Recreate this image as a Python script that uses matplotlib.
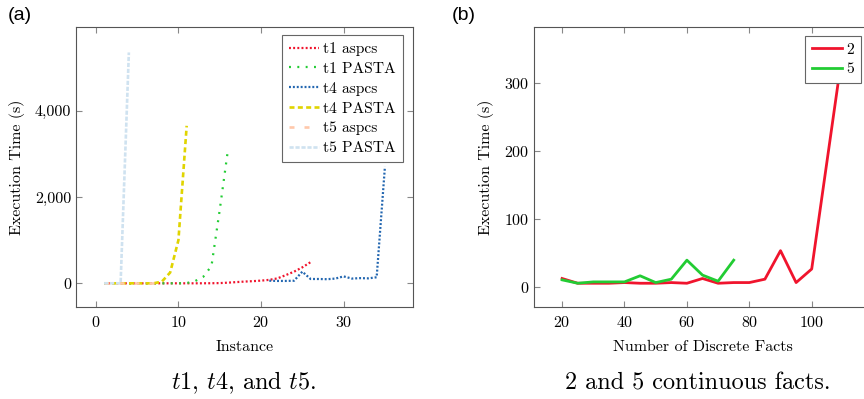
import matplotlib
matplotlib.use('Agg')
import matplotlib.pyplot as plt
from matplotlib.ticker import FuncFormatter

# (a) execution time per instance
t1_aspcs_x = list(range(1, 27))
t1_aspcs_y = [0, 0, 0, 0, 0, 0, 0, 0, 0, 0, 0, 0, 1, 2, 5, 15, 28, 40, 50, 62,
              80, 115, 190, 270, 370, 490]
t1_pasta_x = list(range(1, 17))
t1_pasta_y = [0, 0, 0, 0, 0, 0, 0, 0, 0, 0, 5, 50, 150, 400, 1700, 3100]
t4_aspcs_x = list(range(21, 36))
t4_aspcs_y = [60, 55, 55, 60, 270, 100, 100, 95, 110, 160, 110, 120, 115, 140, 2700]
t4_pasta_x = list(range(1, 12))
t4_pasta_y = [0, 0, 0, 0, 0, 0, 0, 40, 250, 1000, 3650]
t5_aspcs_x = list(range(1, 9))
t5_aspcs_y = [0, 0, 0, 0, 0, 0, 0, 0]
t5_pasta_x = [1, 2, 3, 4]
t5_pasta_y = [0, 0, 0, 5350]

# (b) execution time vs number of discrete facts
facts_2_x = [20, 25, 30, 35, 40, 45, 50, 55, 60, 65, 70, 75, 80, 85, 90, 95, 100, 110]
facts_2_y = [12, 5, 5, 5, 6, 5, 5, 6, 5, 12, 5, 6, 6, 11, 53, 6, 26, 350]
facts_5_x = [20, 25, 30, 35, 40, 45, 50, 55, 60, 65, 70, 75]
facts_5_y = [10, 5, 7, 7, 7, 16, 6, 11, 39, 17, 8, 39]

plt.rcParams['font.family'] = 'serif'
plt.rcParams['font.serif'] = ['cmr10']
plt.rcParams['mathtext.fontset'] = 'cm'
plt.rcParams['axes.unicode_minus'] = False
plt.rcParams['axes.formatter.use_mathtext'] = True
plt.rcParams['lines.scale_dashes'] = False

W, H = 864, 399
fig = plt.figure(figsize=(8.64, 3.99), dpi=100)

def px_axes(x0, y0, x1, y1):
    return fig.add_axes([x0 / W, 1 - y1 / H, (x1 - x0) / W, (y1 - y0) / H])

def style(ax):
    for s in ax.spines.values():
        s.set_color('#555555')
        s.set_linewidth(0.8)
    ax.tick_params(direction='in', top=True, right=True, length=4.5,
                   width=0.8, color='#888888', labelsize=11.5)
    ax.tick_params(axis='y', pad=3.5)
    ax.tick_params(axis='x', pad=6)

def legend(ax, x, y):
    leg = ax.legend(loc='upper right', bbox_to_anchor=(x / W, 1 - y / H),
                    bbox_transform=fig.transFigure, fontsize=11.2, fancybox=False,
                    edgecolor='#666666', framealpha=1, handlelength=1.9,
                    handletextpad=0.3, borderpad=0.45, labelspacing=0.38,
                    borderaxespad=0)
    leg.get_frame().set_linewidth(0.8)
    return leg

ax1 = px_axes(76, 27, 413, 307)
ax2 = px_axes(534, 27, 871, 307)

lw = 1.6
ax1.plot(t1_aspcs_x, t1_aspcs_y, color='#f0142d', lw=lw, dashes=(1.4, 1.6), label='t1 aspcs')
ax1.plot(t1_pasta_x, t1_pasta_y, color='#22cc33', lw=lw, dashes=(1.4, 4.6), label='t1 PASTA')
ax1.plot(t4_aspcs_x, t4_aspcs_y, color='#2266b0', lw=lw, dashes=(1.4, 1.4), label='t4 aspcs')
ax1.plot(t4_pasta_x, t4_pasta_y, color='#e0d400', lw=1.9, dashes=(3.6, 2.4), label='t4 PASTA')
ax1.plot(t5_aspcs_x, t5_aspcs_y, color='#ffc8aa', lw=1.9, dashes=(3.6, 7.2), label='t5 aspcs')
ax1.plot(t5_pasta_x, t5_pasta_y, color='#cfe2f0', lw=1.9, dashes=(3.0, 1.3), label='t5 PASTA')

ax1.set_xlim(-2.4, 38.4)
ax1.set_ylim(-549, 5940)
ax1.set_xticks([0, 10, 20, 30])
ax1.set_yticks([0, 2000, 4000])
ax1.yaxis.set_major_formatter(FuncFormatter(lambda v, p: '{:,.0f}'.format(v)))
ax1.set_xlabel('Instance', fontsize=11.5, labelpad=7)
ax1.set_ylabel('Execution Time (s)', fontsize=11.5, labelpad=7)
style(ax1)
legend(ax1, 403, 35)

ax2.plot(facts_2_x, facts_2_y, color='#f0142d', lw=2.0, label='2')
ax2.plot(facts_5_x, facts_5_y, color='#22cc33', lw=2.0, label='5')
ax2.set_xlim(11, 119)
ax2.set_ylim(-30, 382.6)
ax2.set_xticks([20, 40, 60, 80, 100])
ax2.set_yticks([0, 100, 200, 300])
ax2.set_xlabel('Number of Discrete Facts', fontsize=11.5, labelpad=7)
ax2.set_ylabel('Execution Time (s)', fontsize=11.5, labelpad=7)
style(ax2)
legend(ax2, 861, 35.7)

fig.text(20 / W, 1 - 16 / H, '(a)', family='Liberation Sans', fontsize=14,
         ha='center', va='center')
fig.text(464 / W, 1 - 16 / H, '(b)', family='Liberation Sans', fontsize=14,
         ha='center', va='center')
fig.text(244 / W, 1 - 383 / H, r'$t1$, $t4$, and $t5$.', fontsize=17.4,
         ha='center', va='center')
fig.text(698 / W, 1 - 383 / H, '2 and 5 continuous facts.', fontsize=17.4,
         ha='center', va='center')

fig.savefig('out.png', dpi=100)
